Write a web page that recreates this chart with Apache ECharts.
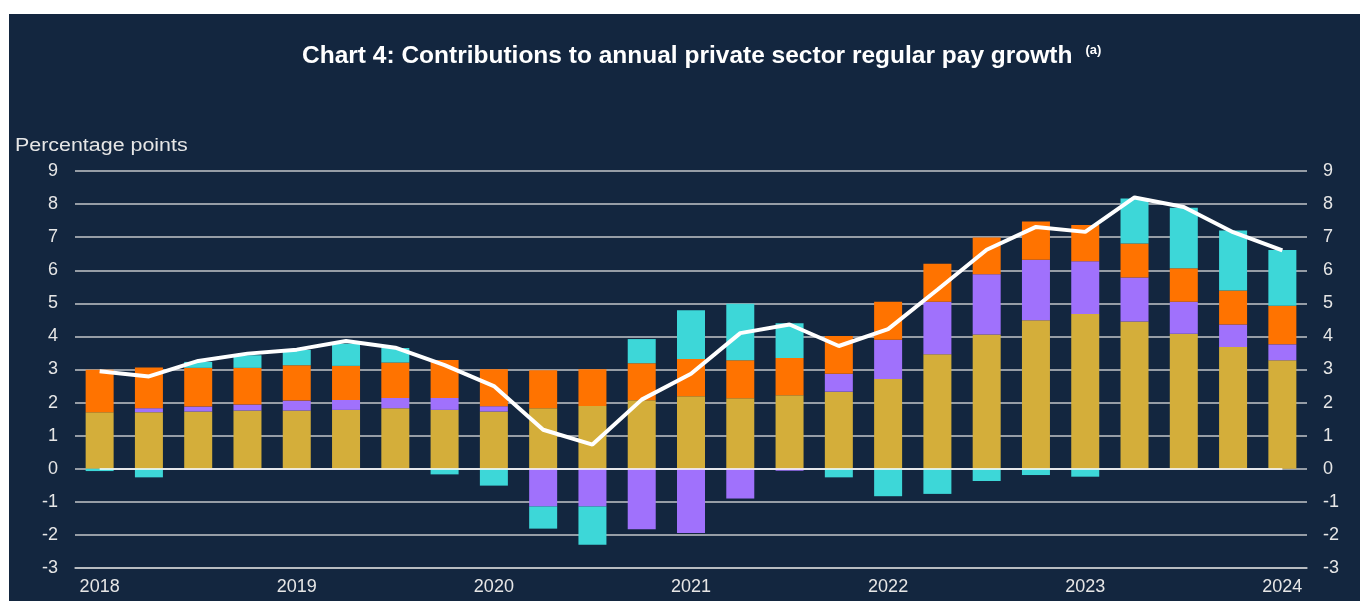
<!DOCTYPE html>
<html>
<head>
<meta charset="utf-8">
<script src="https://cdn.jsdelivr.net/npm/echarts@6/dist/echarts.min.js"></script>
<style>
  html, body { margin: 0; padding: 0; background: #ffffff; }
  #main { position: absolute; left: 9px; top: 14px; width: 1351px; height: 587px; background: #13263f; }
</style>
</head>
<body>
<div id="main"></div>
<script>
// quarters, 2018 Q1 to 2024 Q1
var quarters = [
  '2018 Q1', '2018 Q2', '2018 Q3', '2018 Q4',
  '2019 Q1', '2019 Q2', '2019 Q3', '2019 Q4',
  '2020 Q1', '2020 Q2', '2020 Q3', '2020 Q4',
  '2021 Q1', '2021 Q2', '2021 Q3', '2021 Q4',
  '2022 Q1', '2022 Q2', '2022 Q3', '2022 Q4',
  '2023 Q1', '2023 Q2', '2023 Q3', '2023 Q4',
  '2024 Q1'
];
// contributions (percentage points)
var gold = [1.71, 1.71, 1.73, 1.76, 1.76, 1.78, 1.83, 1.78, 1.73, 1.83, 1.90, 2.07, 2.19, 2.13, 2.22, 2.33, 2.71, 3.46, 4.06, 4.49, 4.68, 4.45, 4.08, 3.68, 3.28];
var purple = [0, 0.12, 0.15, 0.18, 0.30, 0.30, 0.31, 0.36, 0.16, -1.14, -1.14, -1.83, -1.94, -0.90, -0.06, 0.54, 1.19, 1.59, 1.82, 1.83, 1.59, 1.33, 0.97, 0.68, 0.48];
var orange = [1.28, 1.23, 1.17, 1.11, 1.07, 1.03, 1.07, 1.15, 1.12, 1.15, 1.11, 1.12, 1.13, 1.15, 1.13, 1.14, 1.15, 1.15, 1.11, 1.15, 1.10, 1.03, 1.01, 1.03, 1.17];
var cyan = [-0.07, -0.26, 0.18, 0.38, 0.46, 0.67, 0.44, -0.17, -0.51, -0.67, -1.16, 0.73, 1.47, 1.71, 1.05, -0.26, -0.83, -0.76, -0.37, -0.19, -0.24, 1.36, 1.83, 1.81, 1.68];
// annual private sector regular pay growth
var total = [2.95, 2.79, 3.26, 3.48, 3.60, 3.86, 3.66, 3.13, 2.50, 1.18, 0.73, 2.09, 2.87, 4.10, 4.36, 3.71, 4.22, 5.41, 6.62, 7.31, 7.16, 8.20, 7.91, 7.15, 6.60];

var yMin = -3, yMax = 9;
var labelColor = '#e6e6e6';
var gridColor = '#c3c6ca';
var font = 'Arial, "Liberation Sans", sans-serif';

var myChart = echarts.init(document.getElementById('main'));

function barSeries(name, data, color) {
  return {
    name: name,
    type: 'bar',
    stack: 'c',
    barWidth: 28,
    data: data,
    itemStyle: { color: color },
    emphasis: { disabled: true }
  };
}

var option = {
  animation: false,
  textStyle: { fontFamily: font },
  title: {
    text: '{t|Chart 4: Contributions to annual private sector regular pay growth} {s|(a)}',
    left: 288,
    top: 25,
    textStyle: {
      rich: {
        t: { fontSize: 24.5, fontWeight: 'bold', color: '#ffffff', fontFamily: font },
        s: { fontSize: 13, fontWeight: 'bold', color: '#ffffff', fontFamily: font, verticalAlign: 'top', padding: [0, 0, 12, 8] }
      }
    }
  },
  graphic: [{
    type: 'text',
    left: 6,
    top: 123,
    scaleX: 1.19,
    style: { text: 'Percentage points', fill: labelColor, font: '18px ' + font }
  }],
  grid: { left: 66, right: 53, top: 157, bottom: 33 },
  xAxis: {
    type: 'category',
    data: quarters,
    boundaryGap: true,
    axisLine: { onZero: false, lineStyle: { color: gridColor, width: 1.5 } },
    axisTick: { interval: 3, length: 5, lineStyle: { color: gridColor } },
    axisLabel: {
      interval: 3,
      color: labelColor,
      fontSize: 18,
      margin: 10,
      formatter: function (v) { return v.slice(0, 4); }
    },
    splitLine: { show: false }
  },
  yAxis: [{
    type: 'value',
    min: yMin, max: yMax, interval: 1,
    axisLine: { show: false },
    axisTick: { show: false },
    axisLabel: { color: labelColor, fontSize: 18, margin: 17 },
    splitLine: { lineStyle: { color: gridColor, width: 1.5 } }
  }, {
    type: 'value',
    min: yMin, max: yMax, interval: 1,
    position: 'right',
    axisLine: { show: false },
    axisTick: { show: false },
    axisLabel: { color: labelColor, fontSize: 18, margin: 16 },
    splitLine: { show: false }
  }],
  series: [
    barSeries('gold', gold, '#d4ae3a'),
    barSeries('purple', purple, '#a071fc'),
    barSeries('orange', orange, '#ff7300'),
    barSeries('cyan', cyan, '#3dd7d8'),
    {
      name: 'total',
      type: 'line',
      data: total,
      symbol: 'none',
      z: 5,
      lineStyle: { color: '#ffffff', width: 4 },
      markLine: {
        silent: true,
        symbol: 'none',
        label: { show: false },
        lineStyle: { color: '#ffffff', width: 1.5, type: 'solid' },
        data: [[{ coord: [quarters[0], 0] }, { coord: [quarters[quarters.length - 1], 0] }]]
      }
    }
  ]
};

myChart.setOption(option);
</script>
</body>
</html>
